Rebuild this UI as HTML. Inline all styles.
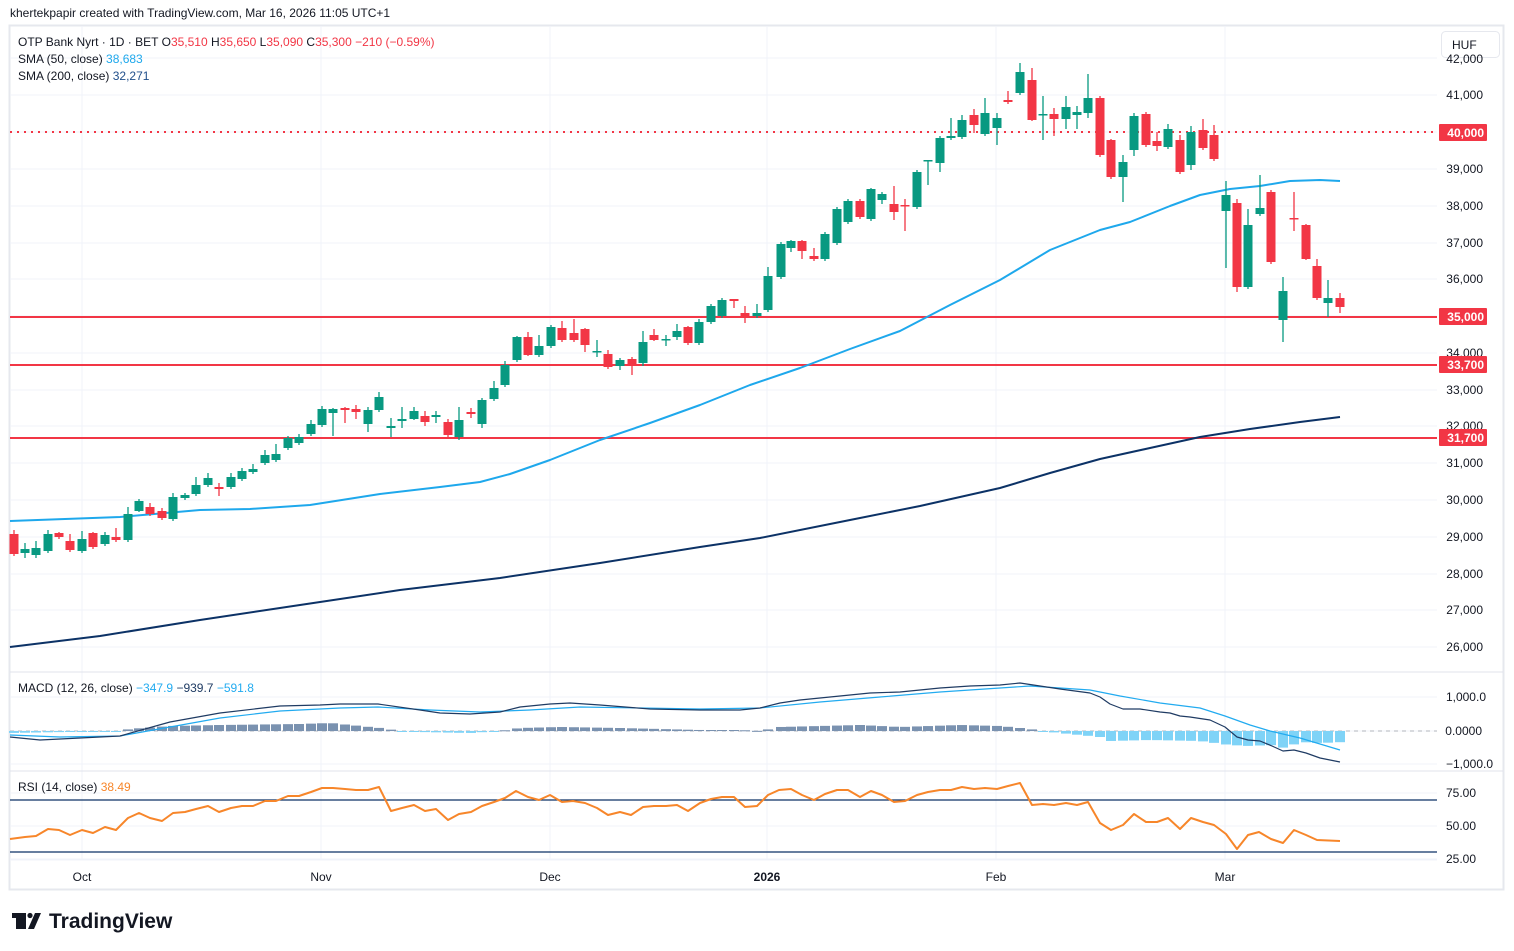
<!DOCTYPE html>
<html><head><meta charset="utf-8">
<style>
html,body{margin:0;padding:0;background:#fff;}
svg{display:block;font-family:"Liberation Sans",sans-serif;}
</style></head>
<body>
<svg id="s" width="1514" height="951" viewBox="0 0 1514 951" xmlns="http://www.w3.org/2000/svg">
<rect width="1514" height="951" fill="#fff"/>
<text x="10" y="17" font-size="12" fill="#131722">khertekpapir created with TradingView.com, Mar 16, 2026 11:05 UTC+1</text>
<rect x="9.5" y="25.5" width="1494" height="864" fill="#fff" stroke="#e6e8ee" stroke-width="2"/>
<g id="grid" stroke="#f0f3fa" stroke-width="1"></g>
<g id="main"></g>
<!-- panel separators -->
<line x1="10" y1="672" x2="1503" y2="672" stroke="#e0e3eb"/>
<line x1="10" y1="771" x2="1503" y2="771" stroke="#e0e3eb"/>
<line x1="10" y1="860" x2="1437" y2="860" stroke="#f0f3fa"/>
<!-- legend -->
<g font-size="12">
<text x="18" y="46" fill="#131722">OTP Bank Nyrt · 1D · BET  <tspan>O</tspan><tspan fill="#f23645">35,510</tspan>  H<tspan fill="#f23645">35,650</tspan>  L<tspan fill="#f23645">35,090</tspan>  C<tspan fill="#f23645">35,300</tspan>  <tspan fill="#f23645">−210 (−0.59%)</tspan></text>
<text x="18" y="63" fill="#131722">SMA (50, close)  <tspan fill="#1ea8ec">38,683</tspan></text>
<text x="18" y="80" fill="#131722">SMA (200, close)  <tspan fill="#1f4e8a">32,271</tspan></text>
<text x="18" y="692" fill="#131722">MACD (12, 26, close)  <tspan fill="#22abf0">−347.9</tspan>  <tspan fill="#1f3b63">−939.7</tspan>  <tspan fill="#22abf0">−591.8</tspan></text>
<text x="18" y="791" fill="#131722">RSI (14, close)  <tspan fill="#f7862a">38.49</tspan></text>
</g>
<!-- HUF -->
<rect x="1441.5" y="31.5" width="58" height="26" rx="4" fill="#fff" stroke="#e6e8ee"/>
<text x="1452" y="49" font-size="12" fill="#131722">HUF</text>
<!-- price axis -->
<g font-size="12" fill="#131722" text-anchor="end">
<text x="1483" y="63">42,000</text>
<text x="1483" y="99">41,000</text>
<text x="1483" y="173">39,000</text>
<text x="1483" y="210">38,000</text>
<text x="1483" y="247">37,000</text>
<text x="1483" y="283">36,000</text>
<text x="1483" y="357">34,000</text>
<text x="1483" y="394">33,000</text>
<text x="1483" y="430">32,000</text>
<text x="1483" y="467">31,000</text>
<text x="1483" y="504">30,000</text>
<text x="1483" y="541">29,000</text>
<text x="1483" y="578">28,000</text>
<text x="1483" y="614">27,000</text>
<text x="1483" y="651">26,000</text>
<text x="1486" y="701">1,000.0</text>
<text x="1482" y="735">0.0000</text>
<text x="1493" y="768">−1,000.0</text>
<text x="1476" y="797">75.00</text>
<text x="1476" y="830">50.00</text>
<text x="1476" y="863">25.00</text>
</g>
<g font-size="12" font-weight="bold" fill="#fff" text-anchor="end">
<rect x="1439" y="124" width="48" height="17" rx="1" fill="#f23645"/><text x="1484" y="137">40,000</text>
<rect x="1439" y="308" width="48" height="17" rx="1" fill="#f23645"/><text x="1484" y="321">35,000</text>
<rect x="1439" y="356" width="48" height="17" rx="1" fill="#f23645"/><text x="1484" y="369">33,700</text>
<rect x="1439" y="429" width="48" height="17" rx="1" fill="#f23645"/><text x="1484" y="442">31,700</text>
</g>
<!-- time axis -->
<g font-size="12" fill="#131722" text-anchor="middle">
<text x="82" y="881">Oct</text>
<text x="321" y="881">Nov</text>
<text x="550" y="881">Dec</text>
<text x="767" y="881" font-weight="bold">2026</text>
<text x="996" y="881">Feb</text>
<text x="1225" y="881">Mar</text>
</g>
<!-- logo -->
<g fill="#131722">
<rect x="12" y="913" width="11" height="5"/>
<rect x="16" y="913" width="5" height="16"/>
<rect x="21" y="913" width="5" height="16"/>
<circle cx="30" cy="915.5" r="2.6"/>
<polygon points="35,913 41,913 34,929 28,929"/>
<text x="49" y="928" font-size="21" font-weight="bold">TradingView</text>
</g>
</svg>
<script>
const NS="http://www.w3.org/2000/svg";
function el(p,t,a){const e=document.createElementNS(NS,t);for(const k in a)e.setAttribute(k,a[k]);p.appendChild(e);return e;}
const grid=document.getElementById('grid'),main=document.getElementById('main');
[58,95,132,169,206,243,279,316,353,390,426,463,500,537,574,610,647,697,731,764,793,826,859].forEach(y=>el(grid,'line',{x1:10,x2:1437,y1:y,y2:y}));
[82,321,550,767,996,1225].forEach(x=>el(grid,'line',{x1:x,x2:x,y1:26,y2:860}));
// horizontal levels
el(main,'line',{x1:10,x2:1437,y1:132,y2:132,stroke:'#f23645','stroke-width':2,'stroke-dasharray':'2,5'});
[317,365,438].forEach(y=>el(main,'line',{x1:10,x2:1437,y1:y,y2:y,stroke:'#f23645','stroke-width':2}));
function poly(pts,c,w){el(main,'polyline',{points:pts.map(p=>p.join(',')).join(' '),fill:'none',stroke:c,'stroke-width':w,'stroke-linejoin':'round'});}
poly([[10,647],[100,636],[200,620],[300,605],[400,590],[500,578],[600,563],[700,547],[760,538],[850,520],[920,506],[1000,488],[1050,473],[1100,459],[1150,448],[1200,437],[1250,429],[1300,422],[1340,417]],'#0c3266',2);
poly([[10,521],[120,517],[200,510],[250,509],[310,505],[380,494],[440,487],[480,482],[510,474],[550,460],[600,440],[650,423],[700,405],[750,385],[800,368],[850,349],[900,331],[950,305],[1000,280],[1050,250],[1100,230],[1130,222],[1170,206],[1200,195],[1230,189],[1260,186],[1290,181],[1320,180],[1340,181]],'#1ea8ec',2);
const C=[[14,534,554,'r',530,556],[25,549,553,'g',543,558],[36,548,555,'g',541,558],[48,534,551,'g',530],[59,533,537,'r',532,539],[70,541,550,'r',534],[82,539,551,'g',531],[93,533,547,'r',532],[105,535,544,'g',532],[116,537,540,'r',528,542],[128,514,540,'g',507],[139,501,511,'g',499,512],[150,507,514,'r',503,516],[162,511,518,'r',508,520],[173,497,519,'g',493],[185,495,498,'g',493],[196,485,494,'g',477],[208,478,485,'g',473],[219,487,489,'r',483,496],[231,477,487,'g',473],[242,471,479,'g',468],[253,469,472,'g',464],[265,455,463,'g',450],[276,454,460,'g',444],[288,438,448,'g',436],[299,437,443,'g',434],[311,424,434,'g',420],[322,409,425,'g',406],[333,409,413,'g',408,436],[345,408,410,'r',407,423],[356,409,412,'r',405,419],[368,410,424,'g',407,432],[379,397,410,'g',392],[391,426,428,'g',418,437],[402,419,421,'g',407,428],[414,411,419,'g',407,420],[425,416,422,'r',411,426],[436,415,417,'g',411,423],[448,422,435,'r',419,437],[459,420,437,'g',407,440],[471,412,414,'r',408,418],[482,400,424,'g',398,428],[494,388,399,'g',381],[505,365,385,'g',361],[517,337,360,'g',336,362],
[528,337,355,'r',332,356],[539,346,355,'g',335],[551,327,346,'g'],[562,328,340,'r',321],[574,333,340,'r',319,342],[585,329,345,'r',328,352],[597,351,352,'g',340,357],[608,354,367,'r',350],[620,360,366,'g',358,370],[632,359,366,'r',357,375],[643,342,363,'g',331,366],[654,335,340,'r',329,341],[666,339,340,'g',335,346],[677,331,337,'g',324,340],[688,327,343,'r',326,345],[699,322,343,'g',319,345],[711,306,322,'g',304,324],[722,300,316,'g',298,318],[734,299,301,'r',299,308],[745,313,316,'r',306,323],[757,313,316,'g',304],[768,276,310,'g',267],[781,244,277,'g',242,279],[791,241,248,'g',240,252],[802,241,251,'r',240,259],[814,256,259,'r',248],[825,234,259,'g'],[837,209,243,'g'],[848,201,222,'g'],[860,201,217,'r'],[871,189,219,'g',188,221],[882,194,200,'g',192,204],[894,204,212,'r',186,220],[905,205,206,'r',199,231],[917,172,207,'g',170],[928,160,161,'g',160,185],[940,138,163,'g',136,172],[951,136,138,'g',118,140],[962,120,137,'g',115],[974,115,125,'r',109,133],[985,113,134,'g',98],[997,118,128,'g',113,145],[1008,100,102,'r',91,104],[1020,72,93,'g',63],
[1032,80,120,'r',68,121],[1043,114,115,'g',96,140],[1054,114,119,'r',108,136],[1066,107,119,'g',96,129],[1077,112,115,'g',106,129],[1088,98,113,'g',74,118],[1100,98,155,'r'],[1111,140,177,'r',139],[1123,162,177,'g',155,202],[1134,116,150,'g',113,156],[1146,114,145,'r',112],[1157,141,146,'r',132,151],[1168,129,147,'g',124],[1180,140,172,'r',135],[1191,132,165,'g',126,170],[1203,130,148,'r',119],[1214,135,159,'r',125],[1226,195,211,'g',181,268],[1237,203,287,'r',199,292],[1248,225,287,'g',209],[1260,208,214,'g',175],[1271,192,262,'r',190],[1283,291,320,'g',277,342],[1294,218,219,'r',192,231],[1306,225,259,'r',224,260],[1317,266,298,'r',259],[1328,298,303,'g',280,317],[1340,298,307,'r',293,313]];
C.forEach(c=>{const [x,t,b,k]=c;const col=k=='g'?'#089981':'#f23645';const wt=c[4]!==undefined?c[4]:t-2,wb=c[5]!==undefined?c[5]:b+2;
el(main,'line',{x1:x,x2:x,y1:wt,y2:wb,stroke:col,'stroke-width':1.3});
el(main,'rect',{x:x-4.5,y:t,width:9,height:Math.max(1.5,b-t),fill:col});});
// MACD
function interp(P,x){for(let i=0;i<P.length-1;i++){if(x>=P[i][0]&&x<=P[i+1][0]){const f=(x-P[i][0])/(P[i+1][0]-P[i][0]);return P[i][1]+f*(P[i+1][1]-P[i][1]);}}return x<P[0][0]?P[0][1]:P[P.length-1][1];}
const H=[[10,733],[120,731],[130,729],[170,726],[220,725],[300,724],[330,723],[350,725],[380,728],[400,731],[420,732],[470,733],[500,731],[520,728],[560,727],[620,728],[700,730],[740,730],[760,731],[780,727],[820,726],[860,725],[900,727],[960,725],[1000,726],[1030,729],[1040,731],[1080,735],[1100,737],[1110,741],[1150,740],[1200,741],[1230,745],[1250,746],[1270,745],[1285,748],[1300,742],[1320,743],[1345,742]];
el(main,'line',{x1:10,x2:1437,y1:731,y2:731,stroke:'#b2b5be','stroke-dasharray':'4,4'});
C.forEach(c=>{const x=c[0],y=interp(H,x);const top=Math.min(y,731),h=Math.abs(y-731);el(main,'rect',{x:x-5,y:top,width:10,height:Math.max(h,1),fill:y<731?'#7a92b0':'#7fd3f7'});});
poly([[10,735],[60,737],[120,736],[170,727],[220,718],[280,711],[340,708],[378,707],[430,710],[480,712],[530,710],[580,707],[640,708],[700,709],[760,708],[820,702],[880,697],[940,692],[1000,688],[1030,686],[1060,688],[1090,690],[1100,692],[1120,696],[1160,703],[1200,708],[1225,716],[1250,725],[1270,731],[1300,738],[1320,744],[1340,750]],'#22abf0',1.2);
poly([[10,737],[40,740],[80,738],[120,736],[170,722],[220,713],[280,706],[320,705],[340,704],[378,704],[420,710],[440,713],[470,714],[500,712],[520,707],[550,704],[570,703],[600,705],[650,709],[700,710],[740,710],[760,708],[780,703],[800,700],[830,697],[870,693],[900,692],[940,688],[970,686],[1000,685],[1020,683],[1040,686],[1060,689],[1090,693],[1100,697],[1110,704],[1123,709],[1140,709],[1160,712],[1170,713],[1180,716],[1190,717],[1210,720],[1225,727],[1237,737],[1248,740],[1260,741],[1272,746],[1283,751],[1294,750],[1306,753],[1320,758],[1340,762]],'#1f3b63',1.2);
// RSI
el(main,'line',{x1:10,x2:1437,y1:800,y2:800,stroke:'#0c3266','stroke-width':1.2});
el(main,'line',{x1:10,x2:1437,y1:852,y2:852,stroke:'#0c3266','stroke-width':1.2});
poly([[10,839],[25,837],[36,836],[48,829],[59,830],[70,835],[82,830],[93,833],[105,827],[116,830],[128,818],[139,813],[150,818],[162,821],[173,813],[185,812],[196,809],[208,806],[219,812],[231,808],[242,806],[253,806],[265,801],[276,801],[288,796],[299,796],[311,792],[322,788],[333,788],[345,789],[356,790],[368,790],[379,787],[391,811],[402,808],[414,805],[425,811],[436,809],[448,820],[459,814],[471,812],[482,806],[494,802],[505,798],[516,791],[528,797],[539,800],[550,795],[562,802],[573,801],[585,803],[597,808],[608,815],[620,812],[631,815],[643,807],[654,806],[666,806],[677,805],[688,811],[700,803],[711,799],[722,797],[734,797],[745,807],[757,806],[768,795],[779,790],[791,789],[802,795],[814,800],[825,794],[837,790],[848,790],[860,797],[871,791],[882,795],[894,802],[905,801],[917,795],[928,792],[940,790],[951,790],[962,787],[974,789],[985,788],[997,789],[1008,786],[1020,783],[1032,805],[1043,804],[1054,805],[1066,803],[1077,805],[1088,802],[1100,823],[1111,830],[1123,825],[1134,814],[1146,822],[1157,822],[1168,818],[1180,829],[1191,818],[1203,822],[1214,825],[1226,834],[1237,849],[1248,835],[1259,832],[1271,839],[1283,843],[1294,830],[1306,835],[1317,840],[1340,841]],'#f7862a',2);
</script>
</body></html>
